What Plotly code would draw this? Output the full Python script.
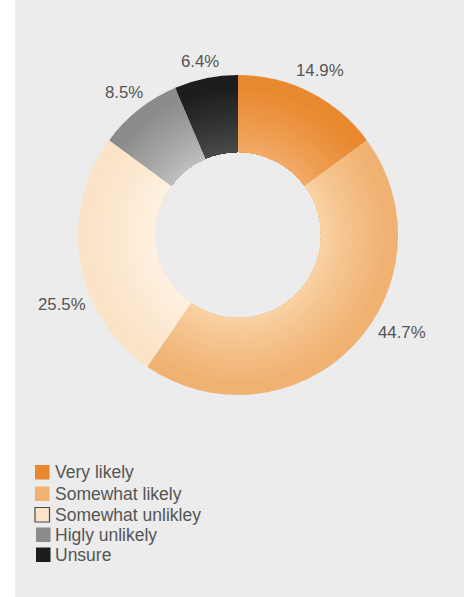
import plotly.graph_objects as go

# Survey answer shares (percent)
labels = ["Very likely", "Somewhat likely", "Somewhat unlikley", "Higly unlikely", "Unsure"]
values = [14.9, 44.7, 25.5, 8.5, 6.4]

# Colours at the inner and outer edge of the ring (radial shading)
inner_colors = ["#F2AB68", "#F9D3A5", "#FEF1E2", "#BFC1BF", "#4A4B4B"]
outer_colors = ["#E8892F", "#F0B273", "#FBE3C7", "#8A8B8A", "#1C1D1D"]

W, H = 464, 597
CX, CY = 238, 235          # donut centre in pixels
R_OUT, R_IN = 160, 83      # outer / inner radius in pixels
N_RINGS = 22
SHADE_END = 148            # radius where the outer colour is reached

FONT = "Liberation Sans, Arial, Helvetica, sans-serif"
TEXT_COLOR = "#555555"
PANEL = "#EBECEB"


def hex_to_rgb(h):
    h = h.lstrip("#")
    return tuple(int(h[i:i + 2], 16) for i in (0, 2, 4))


def mix(c1, c2, t):
    a, b = hex_to_rgb(c1), hex_to_rgb(c2)
    return "rgb({},{},{})".format(*[round(x + (y - x) * t) for x, y in zip(a, b)])


fig = go.Figure()

# Concentric donut rings, largest first, each one sharing the same hole,
# so the stack renders as a single donut with a radial colour ramp.
for k in range(N_RINGS, 0, -1):
    r = R_IN + (R_OUT - R_IN) * k / N_RINGS
    r_mid = R_IN + (R_OUT - R_IN) * (k - 0.5) / N_RINGS
    t = min(1.0, max(0.0, (r_mid - R_IN) / (SHADE_END - R_IN)))
    t = t ** 0.85
    colors = [mix(ci, co, t) for ci, co in zip(inner_colors, outer_colors)]
    fig.add_trace(go.Pie(
        labels=labels,
        values=values,
        sort=False,
        direction="clockwise",
        rotation=0,
        hole=R_IN / r,
        marker=dict(colors=colors, line=dict(width=0)),
        textinfo="none",
        hoverinfo="skip",
        showlegend=False,
        domain=dict(
            x=[(CX - r) / W, (CX + r) / W],
            y=[1 - (CY + r) / H, 1 - (CY - r) / H],
        ),
    ))

# Percentage labels around the donut (centre positions in pixels)
label_pos = [(320, 70), (402, 332), (62, 304), (124, 92.5), (200, 61.5)]
annotations = []
for v, (px, py) in zip(values, label_pos):
    annotations.append(dict(
        x=px / W, y=1 - py / H, xref="paper", yref="paper",
        text=f"{v:.1f}%", showarrow=False,
        xanchor="center", yanchor="middle",
        font=dict(family=FONT, size=16.8, color=TEXT_COLOR),
    ))

# Legend: swatches and labels
shapes = [dict(type="rect", xref="paper", yref="paper",
               x0=15 / W, x1=1, y0=0, y1=1,
               fillcolor=PANEL, line=dict(width=0), layer="below")]
sw_top = [465, 486.5, 507.5, 527.5, 547.5]
sw_left = [35, 35, 35, 36, 36]
SW = 14.5
for i, (lab, col) in enumerate(zip(labels, outer_colors)):
    x0, y0 = sw_left[i], sw_top[i]
    edge = dict(width=1.2, color="#4A4A4A") if i == 2 else dict(width=0)
    shapes.append(dict(type="rect", xref="paper", yref="paper",
                       x0=x0 / W, x1=(x0 + SW) / W,
                       y0=1 - (y0 + SW) / H, y1=1 - y0 / H,
                       fillcolor=col if i != 2 else "#FCE4C8", line=edge))
    annotations.append(dict(
        x=53 / W, y=1 - (y0 + SW / 2) / H, xref="paper", yref="paper",
        text=lab, showarrow=False, xanchor="left", yanchor="middle",
        font=dict(family=FONT, size=17.5, color=TEXT_COLOR),
    ))

fig.update_layout(
    width=W, height=H,
    margin=dict(l=0, r=0, t=0, b=0),
    paper_bgcolor="white",
    plot_bgcolor="white",
    showlegend=False,
    shapes=shapes,
    annotations=annotations,
)

fig.write_html("out.html")
